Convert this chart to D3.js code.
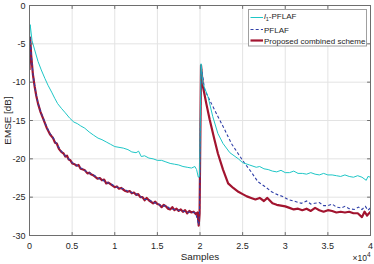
<!DOCTYPE html>
<html><head><meta charset="utf-8">
<script src="https://cdn.jsdelivr.net/npm/d3@7"></script>
<style>
html,body{margin:0;padding:0;background:#fff;}
svg{display:block;font-family:"Liberation Sans",Arial,Helvetica,sans-serif;}
</style></head>
<body><svg id="c" width="374" height="264"></svg>
<script>
// ---- data (samples in units of 1e4, EMSE in dB) ----
const xTicks = [0,0.5,1,1.5,2,2.5,3,3.5,4];
const xTickLabels = ["0","0.5","1","1.5","2","2.5","3","3.5","4"];
const yTicks = [-30,-25,-20,-15,-10,-5,0];
const yTickLabels = ["-30","-25","-20","-15","-10","-5","0"];
const seriesNames = ["l1-PFLAF","PFLAF","Proposed combined scheme"];

const l1Samples = [0,0.008,0.03,0.061,0.1,0.138,0.18,0.217,0.26,0.296,0.33,0.373,0.42,0.472,0.52,0.56,0.6,0.648,0.7,0.75,0.804,0.85,0.9,0.95,1.0,1.05,1.1,1.155,1.2,1.25,1.28,1.311,1.35,1.4,1.45,1.5,1.55,1.6,1.65,1.7,1.75,1.8,1.85,1.9,1.94,1.96,1.98,1.995,2.012,2.035,2.094,2.15,2.21,2.27,2.35,2.45,2.5,2.58,2.66,2.7,2.75,2.8,2.85,2.9,2.95,3.0,3.05,3.1,3.15,3.2,3.25,3.3,3.35,3.4,3.45,3.5,3.55,3.6,3.65,3.7,3.75,3.8,3.85,3.9,3.95,3.97,4.0];
const l1Emse = [-4.5,-2.5,-4.6,-5.8,-7.3,-8.4,-9.5,-10.4,-11.3,-12.1,-12.8,-13.4,-14.0,-14.7,-15.2,-15.4,-15.7,-16.0,-16.5,-16.9,-17.3,-17.5,-17.8,-18.1,-18.4,-18.5,-18.6,-18.8,-19.1,-19.2,-19.0,-19.7,-19.6,-19.9,-20.0,-20.2,-20.2,-20.4,-20.6,-20.7,-20.8,-21.0,-21.1,-21.2,-21.0,-21.4,-22.4,-22.3,-7.6,-10.2,-11.9,-14.5,-16.7,-18.0,-19.2,-20.0,-20.5,-20.8,-21.1,-21.0,-21.3,-21.4,-21.6,-21.7,-21.5,-21.8,-21.8,-21.6,-21.9,-21.9,-22.0,-21.8,-22.0,-22.1,-21.9,-22.1,-22.1,-22.2,-22.3,-22.1,-22.3,-22.4,-22.2,-22.4,-22.8,-22.3,-22.4];

const pflafSamples = [0,0.008,0.02,0.04,0.061,0.08,0.1,0.13,0.158,0.2,0.24,0.276,0.32,0.373,0.42,0.46,0.502,0.55,0.6,0.628,0.68,0.72,0.765,0.8,0.85,0.9,0.95,1.0,1.05,1.1,1.15,1.2,1.25,1.3,1.35,1.4,1.45,1.5,1.55,1.6,1.65,1.7,1.75,1.8,1.85,1.9,1.95,1.985,1.995,2.012,2.055,2.134,2.211,2.29,2.368,2.446,2.525,2.6,2.68,2.76,2.84,2.915,2.97,3.032,3.1,3.188,3.25,3.3,3.345,3.4,3.45,3.501,3.55,3.6,3.657,3.7,3.75,3.81,3.86,3.9,3.94,3.97,4.0];
const pflafEmse = [-8.4,-4.2,-6.4,-8.9,-10.5,-11.7,-12.7,-13.8,-14.6,-15.8,-16.7,-17.2,-18.1,-19.0,-19.6,-20.0,-20.5,-20.8,-21.2,-21.3,-21.8,-21.9,-22.2,-22.5,-22.7,-23.1,-23.2,-23.6,-23.8,-23.9,-24.2,-24.4,-24.6,-24.9,-25.3,-25.3,-25.7,-25.8,-26.2,-26.1,-26.5,-26.6,-26.7,-26.8,-27.0,-26.9,-27.1,-28.6,-27.0,-7.8,-11.0,-12.8,-14.5,-16.2,-18.0,-19.3,-20.6,-21.7,-23.0,-23.6,-24.3,-24.7,-24.9,-25.3,-25.5,-25.8,-25.5,-25.9,-25.8,-25.7,-26.1,-26.1,-25.9,-26.3,-26.4,-26.2,-26.5,-26.6,-26.3,-26.6,-26.2,-26.7,-26.4];

const propSamples = [0,0.008,0.02,0.04,0.061,0.08,0.1,0.13,0.158,0.2,0.24,0.276,0.3,0.32,0.345,0.373,0.4,0.42,0.44,0.46,0.48,0.502,0.53,0.55,0.575,0.6,0.628,0.65,0.68,0.7,0.72,0.74,0.765,0.8,0.825,0.85,0.875,0.9,0.925,0.95,0.975,1.0,1.025,1.05,1.075,1.1,1.125,1.15,1.175,1.2,1.225,1.25,1.275,1.3,1.325,1.35,1.375,1.4,1.425,1.45,1.475,1.5,1.525,1.55,1.575,1.6,1.625,1.65,1.675,1.7,1.725,1.75,1.775,1.8,1.825,1.85,1.875,1.9,1.925,1.95,1.97,1.985,1.995,2.012,2.035,2.074,2.114,2.17,2.21,2.27,2.33,2.39,2.45,2.5,2.55,2.6,2.65,2.7,2.75,2.79,2.85,2.9,2.95,3.0,3.05,3.1,3.15,3.2,3.25,3.3,3.35,3.4,3.45,3.5,3.55,3.6,3.65,3.7,3.75,3.8,3.85,3.9,3.93,3.96,4.0];
const propEmse = [-8.4,-4.2,-6.5,-9.0,-10.6,-11.8,-12.8,-13.9,-14.7,-15.9,-16.8,-17.3,-17.9,-18.0,-18.7,-19.1,-19.3,-19.7,-19.6,-20.1,-20.2,-20.6,-20.7,-20.9,-20.8,-21.3,-21.4,-21.5,-21.9,-21.8,-22.0,-22.1,-22.3,-22.6,-22.5,-22.8,-22.7,-23.2,-23.1,-23.3,-23.5,-23.7,-23.6,-23.9,-23.8,-24.0,-24.2,-24.3,-24.2,-24.5,-24.4,-24.7,-24.6,-25.0,-25.0,-25.4,-25.1,-25.4,-25.6,-25.8,-25.6,-25.9,-26.0,-26.3,-26.0,-26.2,-26.5,-26.6,-26.3,-26.7,-26.5,-26.8,-26.6,-26.9,-26.7,-27.1,-26.8,-27.0,-26.9,-27.2,-27.0,-28.7,-27.2,-7.8,-10.6,-12.8,-14.9,-17.5,-19.3,-21.4,-23.2,-23.8,-24.3,-24.6,-24.9,-25.1,-25.3,-25.1,-25.5,-25.1,-25.8,-26.0,-26.1,-26.2,-26.4,-26.6,-26.5,-26.7,-26.5,-26.8,-26.4,-26.7,-26.9,-26.7,-26.8,-27.0,-26.9,-27.0,-26.9,-27.1,-27.1,-27.6,-26.9,-27.4,-26.9];

// ---- layout ----
const svg = d3.select("#c");
const L = 29.5, R = 370.5, T = 5.5, B = 235.5;
const x = d3.scaleLinear().domain([0,4]).range([L,R]);
const y = d3.scaleLinear().domain([-30,0]).range([B,T]);
const tickCol = "#262626";
const fs = 9;

svg.append("rect").attr("x",L).attr("y",T).attr("width",R-L).attr("height",B-T).attr("fill","#fff");

// grid
svg.append("g").selectAll("line").data(xTicks).join("line")
  .attr("x1",d=>x(d)).attr("x2",d=>x(d)).attr("y1",T).attr("y2",B)
  .attr("stroke","#e3e3e3").attr("stroke-width",1);
svg.append("g").selectAll("line").data(yTicks).join("line")
  .attr("x1",L).attr("x2",R).attr("y1",d=>y(d)).attr("y2",d=>y(d))
  .attr("stroke","#e3e3e3").attr("stroke-width",1);

// clip
svg.append("clipPath").attr("id","clip").append("rect")
  .attr("x",L).attr("y",T).attr("width",R-L).attr("height",B-T);

const line = d3.line().x(d=>x(d[0])).y(d=>y(d[1]));
const g = svg.append("g").attr("clip-path","url(#clip)");
const zip = (a,b)=>a.map((v,i)=>[v,b[i]]);

g.append("path").datum(zip(propSamples,propEmse)).attr("d",line)
  .attr("fill","none").attr("stroke","#A2142F").attr("stroke-width",2.2).attr("stroke-linejoin","round");
g.append("path").datum(zip(pflafSamples,pflafEmse)).attr("d",line)
  .attr("fill","none").attr("stroke","#3040a8").attr("stroke-width",1.1).attr("stroke-dasharray","3,2.2");
g.append("path").datum(zip(l1Samples,l1Emse)).attr("d",line)
  .attr("fill","none").attr("stroke","#1fc6c6").attr("stroke-width",1);

// axes box
const ax = svg.append("g");
ax.append("rect").attr("x",L).attr("y",T).attr("width",R-L).attr("height",B-T)
  .attr("fill","none").attr("stroke","#6e6e6e").attr("stroke-width",1);

// ticks (inward, both sides)
const tl = 3.4;
xTicks.forEach(t=>{
  ax.append("line").attr("x1",x(t)).attr("x2",x(t)).attr("y1",B).attr("y2",B-tl).attr("stroke","#6e6e6e");
  ax.append("line").attr("x1",x(t)).attr("x2",x(t)).attr("y1",T).attr("y2",T+tl).attr("stroke","#6e6e6e");
});
yTicks.forEach(t=>{
  ax.append("line").attr("x1",L).attr("x2",L+tl).attr("y1",y(t)).attr("y2",y(t)).attr("stroke","#6e6e6e");
  ax.append("line").attr("x1",R).attr("x2",R-tl).attr("y1",y(t)).attr("y2",y(t)).attr("stroke","#6e6e6e");
});

// tick labels
svg.append("g").selectAll("text").data(xTicks).join("text")
  .attr("x",d=>x(d)).attr("y",B+13).attr("text-anchor","middle")
  .attr("font-size",fs).attr("fill",tickCol).text((d,i)=>xTickLabels[i]);
svg.append("g").selectAll("text").data(yTicks).join("text")
  .attr("x",L-4).attr("y",d=>y(d)+3.2).attr("text-anchor","end")
  .attr("font-size",fs).attr("fill",tickCol).text((d,i)=>yTickLabels[i]);

// axis labels
svg.append("text").attr("x",(L+R)/2).attr("y",260).attr("text-anchor","middle")
  .attr("font-size",9.9).attr("fill",tickCol).text("Samples");
svg.append("text").attr("transform",`translate(11,${(T+B)/2}) rotate(-90)`)
  .attr("text-anchor","middle").attr("font-size",9.9).attr("fill",tickCol).text("EMSE [dB]");
const ex = svg.append("text").attr("x",R).attr("y",260.5).attr("text-anchor","end")
  .attr("font-size",8.5).attr("fill",tickCol);
ex.append("tspan").text("\u00d710");
ex.append("tspan").attr("dy",-4).attr("font-size",6.5).text("4");

// legend
const lg = svg.append("g");
lg.append("rect").attr("x",248.5).attr("y",9.5).attr("width",118).attr("height",36.5)
  .attr("fill","#fff").attr("stroke","#a0a0a0").attr("stroke-width",1);
const rows = [17.5,29.5,40.5];
const styles = [
  {c:"#1fc6c6",w:1,d:null},
  {c:"#3040a8",w:1.1,d:"3,2.2"},
  {c:"#A2142F",w:2.2,d:null}
];
styles.forEach((s,i)=>{
  const l = lg.append("line").attr("x1",250.5).attr("x2",263).attr("y1",rows[i]).attr("y2",rows[i])
    .attr("stroke",s.c).attr("stroke-width",s.w);
  if(s.d) l.attr("stroke-dasharray",s.d);
});
const t0 = lg.append("text").attr("x",264).attr("y",rows[0]+1).attr("font-size",8).attr("fill",tickCol);
t0.append("tspan").attr("font-style","italic").text("l");
t0.append("tspan").attr("dy",2.2).attr("font-size",5.5).text("1");
t0.append("tspan").attr("dy",-2.2).text("-PFLAF");
lg.append("text").attr("x",264).attr("y",rows[1]+3).attr("font-size",8).attr("fill",tickCol).text(seriesNames[1]);
lg.append("text").attr("x",264).attr("y",rows[2]+3).attr("font-size",8).attr("fill",tickCol).text(seriesNames[2]);
</script></body></html>
